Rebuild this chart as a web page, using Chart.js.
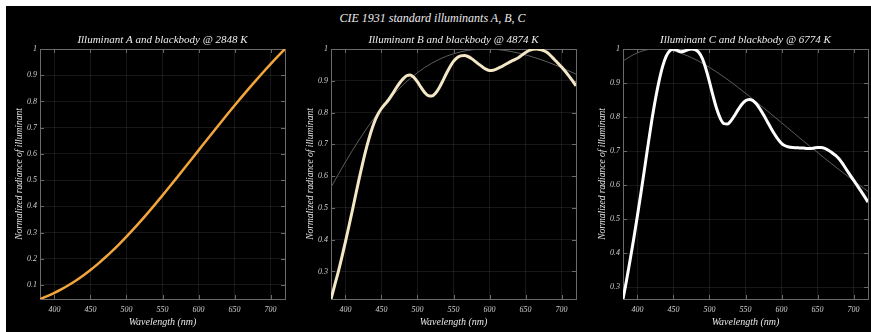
<!DOCTYPE html>
<html>
<head>
<meta charset="utf-8">
<script src="https://cdn.jsdelivr.net/npm/chart.js@4.4.1/dist/chart.umd.min.js"></script>
<style>
  html, body { margin: 0; padding: 0; background: #fff; }
  #stage { position: absolute; left: 6px; top: 6px; width: 865px; height: 326px; background: #000; overflow: hidden; }
  #suptitle { position: absolute; left: 0; top: 5px; width: 853px; text-align: center;
    font: italic 12px "Liberation Serif", serif; color: #ececec; line-height: 14px; }
  canvas { position: absolute; top: 0; }
</style>
</head>
<body>
<div id="stage">
  <div id="suptitle">CIE 1931 standard illuminants A, B, C</div>
  <canvas id="cA" width="282" height="326" style="left:0px;width:282px;height:326px"></canvas>
  <canvas id="cB" width="282" height="326" style="left:291px;width:282px;height:326px"></canvas>
  <canvas id="cC" width="282" height="326" style="left:583px;width:282px;height:326px"></canvas>
</div>
<script>
// Wavelength grids (nm)
const wl10 = [380,390,400,410,420,430,440,450,460,470,480,490,500,510,520,530,540,550,560,570,580,590,600,610,620,630,640,650,660,670,680,690,700,710,720];
const wl5 = [380,385,390,395,400,405,410,415,420,425,430,435,440,445,450,455,460,465,470,475,480,485,490,495,500,505,510,515,520,525,530,535,540,545,550,555,560,565,570,575,580,585,590,595,600,605,610,615,620,625,630,635,640,645,650,655,660,665,670,675,680,685,690,695,700,705,710,715,720];
const wl20 = [380,400,420,440,460,480,500,520,540,560,580,600,620,640,660,680,700,720];

// Normalized relative spectral power of the standard illuminants
const illumA = [0.0466,0.0574,0.0699,0.0840,0.0998,0.1173,0.1364,0.1573,0.1797,0.2038,0.2293,0.2563,0.2846,0.3140,0.3446,0.3762,0.4086,0.4417,0.4754,0.5095,0.5440,0.5787,0.6134,0.6481,0.6827,0.7170,0.7510,0.7845,0.8175,0.8498,0.8815,0.9124,0.9425,0.9717,1.0000];
const illumB = [0.2132,0.2555,0.2979,0.3443,0.3930,0.4437,0.4958,0.5491,0.6014,0.6506,0.6957,0.7357,0.7689,0.7941,0.8127,0.8268,0.8403,0.8572,0.8755,0.8922,0.9060,0.9158,0.9183,0.9108,0.8965,0.8791,0.8632,0.8532,0.8517,0.8606,0.8774,0.8989,0.9222,0.9437,0.9612,0.9726,0.9783,0.9794,0.9764,0.9697,0.9612,0.9523,0.9440,0.9368,0.9326,0.9334,0.9374,0.9427,0.9488,0.9551,0.9612,0.9665,0.9726,0.9807,0.9888,0.9953,0.9992,1.0000,0.9983,0.9950,0.9888,0.9787,0.9669,0.9553,0.9431,0.9298,0.9155,0.9003,0.8841];
const illumC = [0.2659,0.3217,0.3820,0.4446,0.5101,0.5787,0.6495,0.7215,0.7906,0.8526,0.9058,0.9489,0.9791,0.9948,0.9993,0.9961,0.9920,0.9936,0.9977,1.0000,0.9985,0.9906,0.9727,0.9421,0.9034,0.8621,0.8244,0.7963,0.7809,0.7799,0.7898,0.8054,0.8228,0.8377,0.8478,0.8516,0.8486,0.8390,0.8244,0.8071,0.7881,0.7690,0.7511,0.7351,0.7229,0.7159,0.7124,0.7107,0.7100,0.7096,0.7092,0.7080,0.7076,0.7091,0.7108,0.7108,0.7084,0.7029,0.6955,0.6874,0.6769,0.6625,0.6463,0.6305,0.6149,0.5992,0.5834,0.5673,0.5504];

// Normalized blackbody radiance at the matching colour temperatures
const bb2848 = [0.0458,0.0689,0.0985,0.1349,0.1779,0.2272,0.2823,0.3422,0.4061,0.4729,0.5416,0.6112,0.6807,0.7493,0.8161,0.8805,0.9420,1.0000];
const bb4874 = [0.5646,0.6443,0.7176,0.7830,0.8396,0.8872,0.9257,0.9555,0.9771,0.9912,0.9985,0.9998,0.9958,0.9873,0.9750,0.9594,0.9412,0.9209];
const bb6774 = [0.9652,0.9889,0.9992,0.9981,0.9877,0.9698,0.9460,0.9180,0.8867,0.8534,0.8187,0.7835,0.7481,0.7132,0.6789,0.6455,0.6131,0.5820];

// Tick positions
const xTicks = [400,450,500,550,600,650,700];
const yTicksA = [0.1,0.2,0.3,0.4,0.5,0.6,0.7,0.8,0.9,1];
const yTicksBC = [0.3,0.4,0.5,0.6,0.7,0.8,0.9,1];

const SERIF = '"Liberation Serif", "DejaVu Serif", serif';

const pairs = (xs, ys) => xs.map((x, i) => ({ x, y: ys[i] }));

// Frame, inward tick marks and the panel heading
const framePlugin = {
  id: 'frame',
  beforeDatasetsDraw(chart) {
    const { ctx, chartArea: a, scales } = chart;
    ctx.save();
    ctx.strokeStyle = '#6a6a6a';
    ctx.lineWidth = 1;
    ctx.beginPath();
    scales.x.ticks.forEach(t => {
      const px = Math.round(scales.x.getPixelForValue(t.value)) + 0.5;
      ctx.moveTo(px, a.bottom); ctx.lineTo(px, a.bottom - 4);
      ctx.moveTo(px, a.top); ctx.lineTo(px, a.top + 4);
    });
    scales.y.ticks.forEach(t => {
      const py = Math.round(scales.y.getPixelForValue(t.value)) + 0.5;
      ctx.moveTo(a.left, py); ctx.lineTo(a.left + 4, py);
      ctx.moveTo(a.right, py); ctx.lineTo(a.right - 4, py);
    });
    ctx.stroke();
    ctx.strokeRect(Math.round(a.left) + 0.5, Math.round(a.top) + 0.5,
                   Math.round(a.right - a.left), Math.round(a.bottom - a.top));
    ctx.restore();
  },
  afterDraw(chart, args, opts) {
    const { ctx, chartArea: a } = chart;
    ctx.save();
    ctx.fillStyle = '#ececec';
    ctx.font = 'italic 11px ' + SERIF;
    ctx.textAlign = 'center';
    ctx.textBaseline = 'middle';
    ctx.fillText(opts.text, (a.left + a.right) / 2, a.top - 9);
    ctx.restore();
  }
};

function makePanel(id, heading, illum, wlIllum, bb, color, width, yTicks) {
  const yMin = Math.min(...illum);
  return new Chart(document.getElementById(id), {
    type: 'line',
    data: {
      datasets: [
        { data: pairs(wlIllum, illum), borderColor: color, borderWidth: width,
          pointRadius: 0, cubicInterpolationMode: 'monotone', order: 0 },
        { data: pairs(wl20, bb), borderColor: '#5c5c5c', borderWidth: 1,
          pointRadius: 0, cubicInterpolationMode: 'monotone', order: 1 }
      ]
    },
    plugins: [framePlugin],
    options: {
      responsive: false,
      animation: false,
      events: [],
      layout: { padding: { top: 43, right: 3, left: 0, bottom: 0 } },
      plugins: {
        legend: { display: false },
        tooltip: { enabled: false },
        frame: { text: heading }
      },
      scales: {
        x: {
          type: 'linear', min: 380, max: 720,
          afterBuildTicks: s => { s.ticks = xTicks.map(v => ({ value: v })); },
          afterFit: s => { s.height = 33; },
          ticks: { color: '#cfcfcf', font: { family: SERIF, style: 'italic', size: 8 },
                   padding: 6, maxRotation: 0, autoSkip: false, callback: v => String(v) },
          grid: { color: 'rgba(255,255,255,0.09)', drawTicks: false },
          border: { display: false },
          title: { display: true, text: 'Wavelength (nm)', color: '#e6e6e6',
                   font: { family: SERIF, style: 'italic', size: 10 }, padding: { top: 0, bottom: 4 } }
        },
        y: {
          type: 'linear', min: yMin, max: 1,
          afterBuildTicks: s => { s.ticks = yTicks.map(v => ({ value: v })); },
          afterFit: s => { s.width = 34; },
          ticks: { color: '#cfcfcf', font: { family: SERIF, style: 'italic', size: 8 },
                   padding: 3, autoSkip: false, callback: v => String(v) },
          grid: { color: 'rgba(255,255,255,0.09)', drawTicks: false },
          border: { display: false },
          title: { display: true, text: 'Normalized radiance of illuminant', color: '#e6e6e6',
                   font: { family: SERIF, style: 'italic', size: 9.5 }, padding: { top: 8, bottom: 0 } }
        }
      }
    }
  });
}

makePanel('cA', 'Illuminant A and blackbody @ 2848 K', illumA, wl10, bb2848, '#f2a53a', 2.5, yTicksA);
makePanel('cB', 'Illuminant B and blackbody @ 4874 K', illumB, wl5, bb4874, '#f4e7c6', 3, yTicksBC);
makePanel('cC', 'Illuminant C and blackbody @ 6774 K', illumC, wl5, bb6774, '#ffffff', 3, yTicksBC);
</script>
</body>
</html>
